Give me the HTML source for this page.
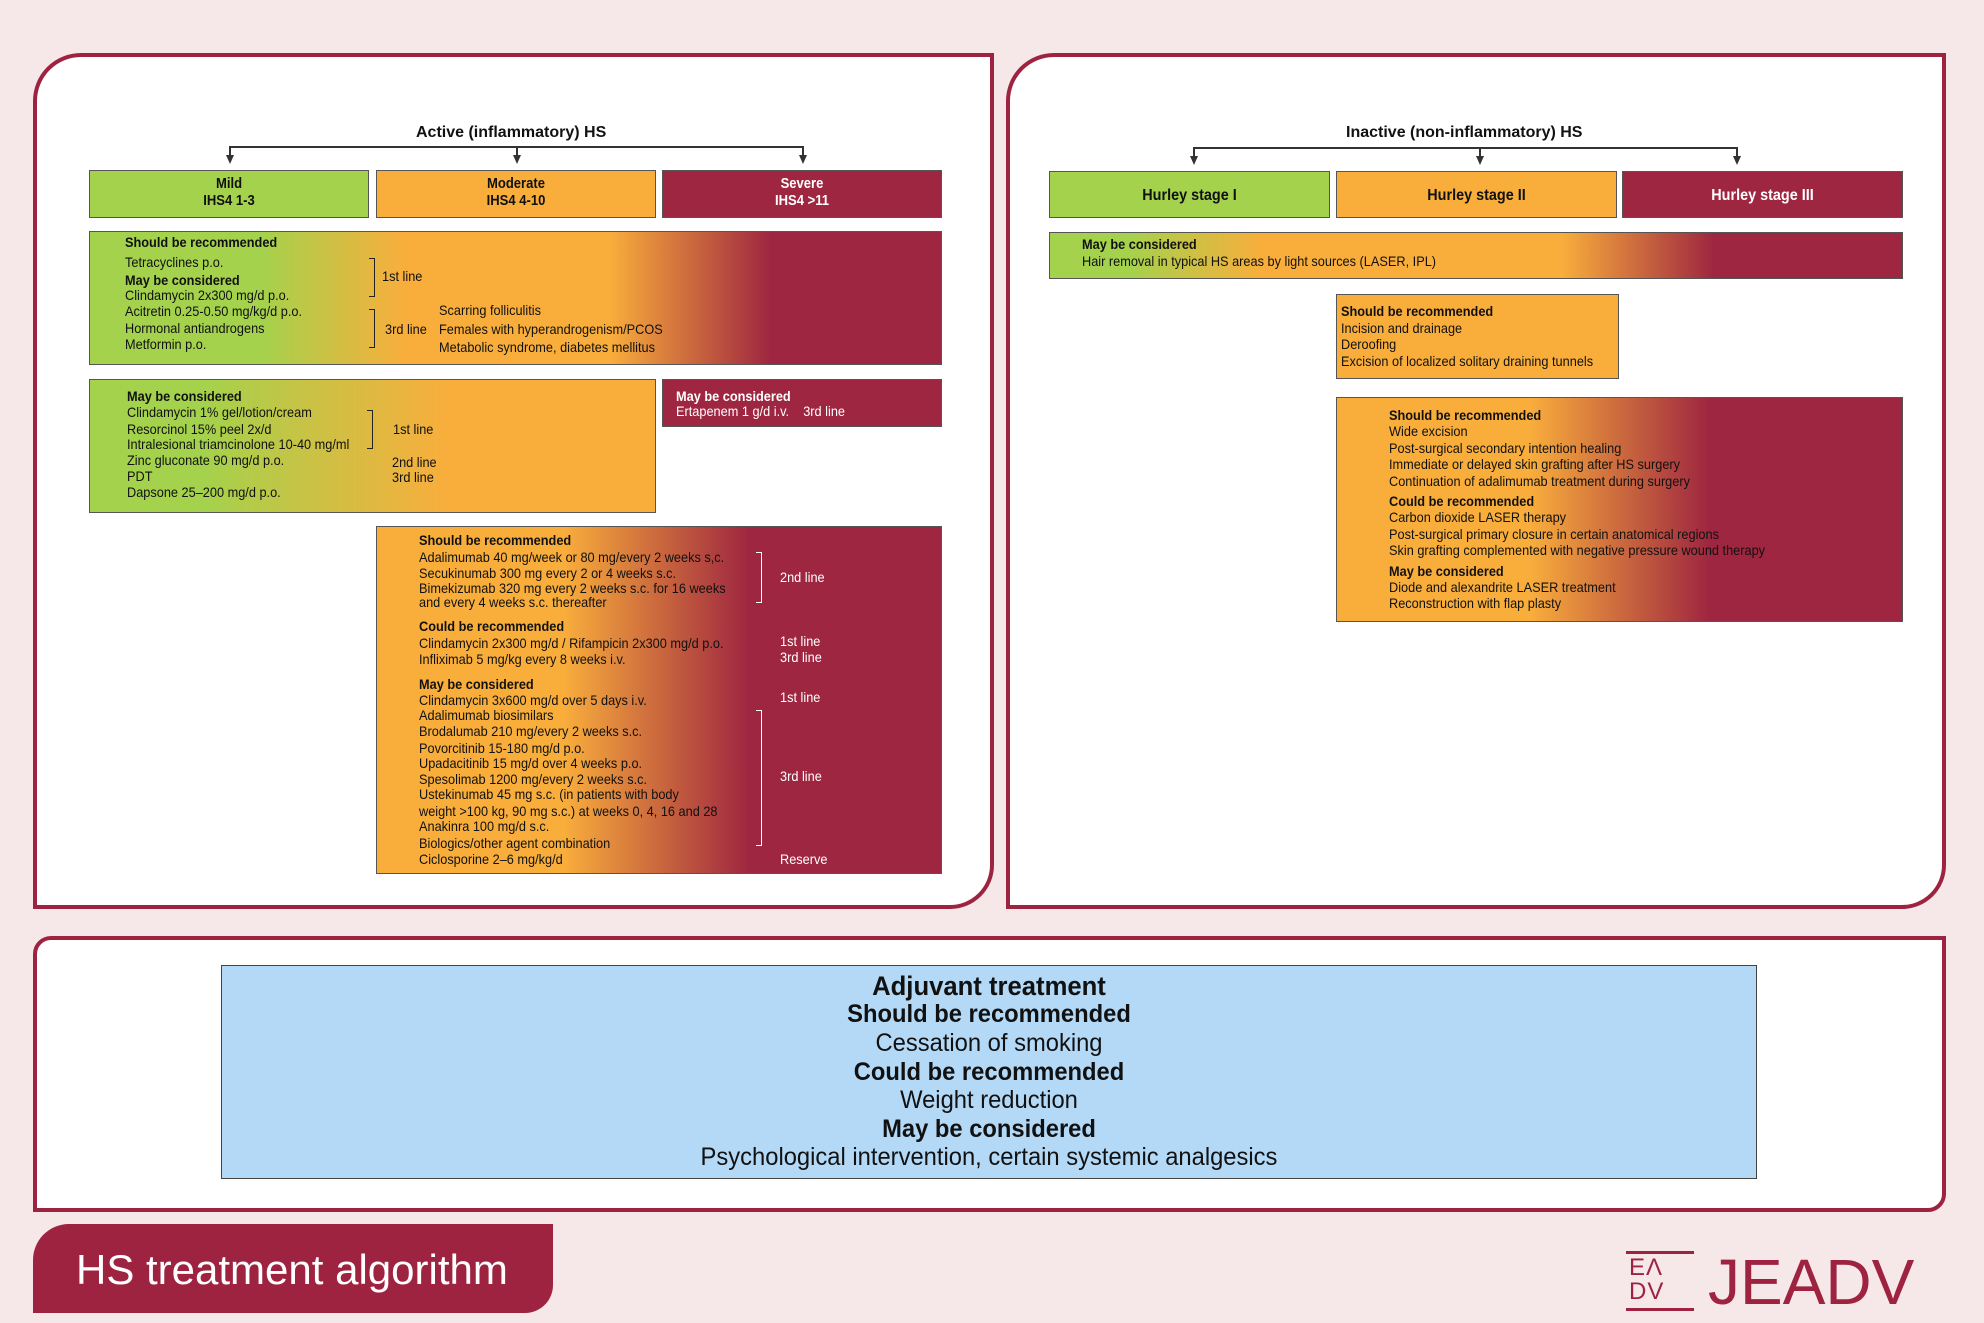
<!DOCTYPE html>
<html><head><meta charset="utf-8"><style>
*{margin:0;padding:0;box-sizing:border-box}
body{width:1984px;height:1323px;background:#f6e7e8;position:relative;overflow:hidden;font-family:"Liberation Sans",Arial,sans-serif;color:#111}
.a{position:absolute}
.p{position:absolute;background:#fff;border:4px solid #9e2340}
.box{position:absolute;border:1.5px solid #555}
.t{position:absolute;white-space:nowrap;font-size:14px;line-height:16px;transform:scaleX(.91);transform-origin:0 0}
.b{font-weight:bold}
.w{color:#fff}
.c{position:absolute;text-align:center;font-weight:bold;font-size:14.5px;line-height:17px;white-space:nowrap;transform:scaleX(.9)}
.br{position:absolute;border:1.3px solid #222;border-left:none;width:6px}
.brw{position:absolute;border:1.3px solid #fff;border-left:none;width:6px}
.ln{position:absolute;background:#333}
.ar{position:absolute;width:0;height:0;border-left:4px solid transparent;border-right:4px solid transparent;border-top:9px solid #333}
.bt{position:absolute;left:0;width:100%;text-align:center;white-space:nowrap;font-size:25px;line-height:30px;transform:scaleX(.95)}
</style></head><body>

<div class="p" style="left:33px;top:53px;width:961px;height:856px;border-radius:48px 0 44px 0"></div>
<div class="p" style="left:1006px;top:53px;width:940px;height:856px;border-radius:48px 0 44px 0"></div>
<div class="p" style="left:33px;top:936px;width:1913px;height:276px;border-radius:18px 0 18px 0"></div>
<div class="a" style="left:33px;top:1224px;width:520px;height:89px;background:#9e2340;border-radius:36px 0 28px 0"></div>
<div class="a w" style="left:76px;top:1247px;font-size:42px;line-height:46px;white-space:nowrap">HS treatment algorithm</div>

<div class="a" style="left:1626px;top:1251px;width:68px;height:3px;background:#9e2340"></div>
<div class="a" style="left:1626px;top:1308px;width:68px;height:3px;background:#9e2340"></div>
<div class="a" style="left:1629px;top:1257px;font-size:24px;line-height:22px;color:#9e2340;letter-spacing:1px">EΛ</div>
<div class="a" style="left:1629px;top:1280px;font-size:24px;line-height:24px;color:#9e2340;letter-spacing:1px">DV</div>
<div class="a" style="left:1708px;top:1250px;font-size:64px;line-height:64px;color:#9e2340">JEADV</div>

<div class="a b" style="left:416px;top:124px;font-size:16px;white-space:nowrap">Active (inflammatory) HS</div>
<div class="ln" style="left:229px;top:146px;width:574px;height:1.5px"></div>
<div class="ln" style="left:229px;top:146px;width:1.5px;height:10px"></div>
<div class="ln" style="left:516px;top:146px;width:1.5px;height:10px"></div>
<div class="ln" style="left:802px;top:146px;width:1.5px;height:10px"></div>
<div class="ar" style="left:226px;top:155px"></div>
<div class="ar" style="left:513px;top:155px"></div>
<div class="ar" style="left:799px;top:155px"></div>

<div class="box" style="left:89px;top:170px;width:280px;height:48px;background:#a4d24c"></div>
<div class="c" style="left:89px;top:176px;width:280px">Mild<br>IHS4 1-3</div>
<div class="box" style="left:376px;top:170px;width:280px;height:48px;background:#f9ae3c"></div>
<div class="c" style="left:376px;top:176px;width:280px">Moderate<br>IHS4 4-10</div>
<div class="box" style="left:662px;top:170px;width:280px;height:48px;background:#9e2640"></div>
<div class="c w" style="left:662px;top:176px;width:280px">Severe<br>IHS4 &gt;11</div>

<div class="box" style="left:89px;top:231px;width:853px;height:134px;background:linear-gradient(90deg,#a4d24c 0%,#a4d24c 20%,#f9ae3c 37%,#f9ae3c 61%,#9e2640 80%,#9e2640 100%)"></div>
<div class="t b" style="left:125px;top:234px">Should be recommended</div>
<div class="t" style="left:125px;top:254px">Tetracyclines p.o.</div>
<div class="t b" style="left:125px;top:272px">May be considered</div>
<div class="t" style="left:125px;top:287px">Clindamycin 2x300 mg/d p.o.</div>
<div class="t" style="left:125px;top:303px">Acitretin 0.25-0.50 mg/kg/d p.o.</div>
<div class="t" style="left:125px;top:320px">Hormonal antiandrogens</div>
<div class="t" style="left:125px;top:336px">Metformin p.o.</div>
<div class="br" style="left:369px;top:258px;height:39px"></div>
<div class="br" style="left:369px;top:309px;height:39px"></div>
<div class="t" style="left:382px;top:268px">1st line</div>
<div class="t" style="left:385px;top:321px">3rd line</div>
<div class="t" style="left:439px;top:302px">Scarring folliculitis</div>
<div class="t" style="left:439px;top:321px">Females with hyperandrogenism/PCOS</div>
<div class="t" style="left:439px;top:339px">Metabolic syndrome, diabetes mellitus</div>

<div class="box" style="left:89px;top:379px;width:567px;height:134px;background:linear-gradient(90deg,#a4d24c 0%,#a4d24c 20%,#f9ae3c 63%,#f9ae3c 100%)"></div>
<div class="t b" style="left:127px;top:388px">May be considered</div>
<div class="t" style="left:127px;top:404px">Clindamycin 1% gel/lotion/cream</div>
<div class="t" style="left:127px;top:421px">Resorcinol 15% peel 2x/d</div>
<div class="t" style="left:127px;top:436px">Intralesional triamcinolone 10-40 mg/ml</div>
<div class="t" style="left:127px;top:452px">Zinc gluconate 90 mg/d p.o.</div>
<div class="t" style="left:127px;top:468px">PDT</div>
<div class="t" style="left:127px;top:484px">Dapsone 25–200 mg/d p.o.</div>
<div class="br" style="left:367px;top:410px;height:39px"></div>
<div class="t" style="left:393px;top:421px">1st line</div>
<div class="t" style="left:392px;top:454px">2nd line</div>
<div class="t" style="left:392px;top:469px">3rd line</div>

<div class="box" style="left:662px;top:379px;width:280px;height:48px;background:#9e2640"></div>
<div class="t b w" style="left:676px;top:388px">May be considered</div>
<div class="t w" style="left:676px;top:403px">Ertapenem 1 g/d i.v.&nbsp;&nbsp;&nbsp;&nbsp;3rd line</div>

<div class="box" style="left:376px;top:526px;width:566px;height:348px;background:linear-gradient(90deg,#f9ae3c 0%,#f9ae3c 33%,#9e2640 66%,#9e2640 100%)"></div>
<div class="t b" style="left:419px;top:532px">Should be recommended</div>
<div class="t" style="left:419px;top:549px">Adalimumab 40 mg/week or 80 mg/every 2 weeks s,c.</div>
<div class="t" style="left:419px;top:565px">Secukinumab 300 mg every 2 or 4 weeks s.c.</div>
<div class="t" style="left:419px;top:580px">Bimekizumab 320 mg every 2 weeks s.c. for 16 weeks</div>
<div class="t" style="left:419px;top:594px">and every 4 weeks s.c. thereafter</div>
<div class="t b" style="left:419px;top:618px">Could be recommended</div>
<div class="t" style="left:419px;top:635px">Clindamycin 2x300 mg/d / Rifampicin 2x300 mg/d p.o.</div>
<div class="t" style="left:419px;top:651px">Infliximab 5 mg/kg every 8 weeks i.v.</div>
<div class="t b" style="left:419px;top:676px">May be considered</div>
<div class="t" style="left:419px;top:692px">Clindamycin 3x600 mg/d over 5 days i.v.</div>
<div class="t" style="left:419px;top:707px">Adalimumab biosimilars</div>
<div class="t" style="left:419px;top:723px">Brodalumab 210 mg/every 2 weeks s.c.</div>
<div class="t" style="left:419px;top:740px">Povorcitinib 15-180 mg/d p.o.</div>
<div class="t" style="left:419px;top:755px">Upadacitinib 15 mg/d over 4 weeks p.o.</div>
<div class="t" style="left:419px;top:771px">Spesolimab 1200 mg/every 2 weeks s.c.</div>
<div class="t" style="left:419px;top:786px">Ustekinumab 45 mg s.c. (in patients with body</div>
<div class="t" style="left:419px;top:803px">weight &gt;100 kg, 90 mg s.c.) at weeks 0, 4, 16 and 28</div>
<div class="t" style="left:419px;top:818px">Anakinra 100 mg/d s.c.</div>
<div class="t" style="left:419px;top:835px">Biologics/other agent combination</div>
<div class="t" style="left:419px;top:851px">Ciclosporine 2–6 mg/kg/d</div>
<div class="brw" style="left:756px;top:552px;height:51px"></div>
<div class="t w" style="left:780px;top:569px">2nd line</div>
<div class="t w" style="left:780px;top:633px">1st line</div>
<div class="t w" style="left:780px;top:649px">3rd line</div>
<div class="t w" style="left:780px;top:689px">1st line</div>
<div class="brw" style="left:756px;top:710px;height:136px"></div>
<div class="t w" style="left:780px;top:768px">3rd line</div>
<div class="t w" style="left:780px;top:851px">Reserve</div>

<div class="a b" style="left:1346px;top:124px;font-size:16px;white-space:nowrap">Inactive (non-inflammatory) HS</div>
<div class="ln" style="left:1193px;top:147px;width:544px;height:1.5px"></div>
<div class="ln" style="left:1193px;top:147px;width:1.5px;height:10px"></div>
<div class="ln" style="left:1479px;top:147px;width:1.5px;height:10px"></div>
<div class="ln" style="left:1736px;top:147px;width:1.5px;height:10px"></div>
<div class="ar" style="left:1190px;top:156px"></div>
<div class="ar" style="left:1476px;top:156px"></div>
<div class="ar" style="left:1733px;top:156px"></div>

<div class="box" style="left:1049px;top:171px;width:281px;height:47px;background:#a4d24c"></div>
<div class="c" style="left:1049px;top:187px;width:281px;font-size:16px">Hurley stage I</div>
<div class="box" style="left:1336px;top:171px;width:281px;height:47px;background:#f9ae3c"></div>
<div class="c" style="left:1336px;top:187px;width:281px;font-size:16px">Hurley stage II</div>
<div class="box" style="left:1622px;top:171px;width:281px;height:47px;background:#9e2640"></div>
<div class="c w" style="left:1622px;top:187px;width:281px;font-size:16px">Hurley stage III</div>

<div class="box" style="left:1049px;top:232px;width:854px;height:47px;background:linear-gradient(90deg,#a4d24c 0%,#a4d24c 9%,#f9ae3c 25%,#f9ae3c 60%,#9e2640 78%,#9e2640 100%)"></div>
<div class="t b" style="left:1082px;top:236px">May be considered</div>
<div class="t" style="left:1082px;top:253px">Hair removal in typical HS areas by light sources (LASER, IPL)</div>

<div class="box" style="left:1336px;top:294px;width:283px;height:85px;background:#f9ae3c"></div>
<div class="t b" style="left:1341px;top:303px">Should be recommended</div>
<div class="t" style="left:1341px;top:320px">Incision and drainage</div>
<div class="t" style="left:1341px;top:336px">Deroofing</div>
<div class="t" style="left:1341px;top:353px">Excision of localized solitary draining tunnels</div>

<div class="box" style="left:1336px;top:397px;width:567px;height:225px;background:linear-gradient(90deg,#f9ae3c 0%,#f9ae3c 34%,#9e2640 66%,#9e2640 100%)"></div>
<div class="t b" style="left:1389px;top:407px">Should be recommended</div>
<div class="t" style="left:1389px;top:423px">Wide excision</div>
<div class="t" style="left:1389px;top:440px">Post-surgical secondary intention healing</div>
<div class="t" style="left:1389px;top:456px">Immediate or delayed skin grafting after HS surgery</div>
<div class="t" style="left:1389px;top:473px">Continuation of adalimumab treatment during surgery</div>
<div class="t b" style="left:1389px;top:493px">Could be recommended</div>
<div class="t" style="left:1389px;top:509px">Carbon dioxide LASER therapy</div>
<div class="t" style="left:1389px;top:526px">Post-surgical primary closure in certain anatomical regions</div>
<div class="t" style="left:1389px;top:542px">Skin grafting complemented with negative pressure wound therapy</div>
<div class="t b" style="left:1389px;top:563px">May be considered</div>
<div class="t" style="left:1389px;top:579px">Diode and alexandrite LASER treatment</div>
<div class="t" style="left:1389px;top:595px">Reconstruction with flap plasty</div>

<div class="a" style="left:221px;top:965px;width:1536px;height:214px;background:#b3d9f7;border:1.5px solid #444">
<div class="bt b" style="top:5px;font-size:27px">Adjuvant treatment</div>
<div class="bt b" style="top:33px">Should be recommended</div>
<div class="bt" style="top:62px">Cessation of smoking</div>
<div class="bt b" style="top:91px">Could be recommended</div>
<div class="bt" style="top:119px">Weight reduction</div>
<div class="bt b" style="top:148px">May be considered</div>
<div class="bt" style="top:176px">Psychological intervention, certain systemic analgesics</div>
</div>
</body></html>
